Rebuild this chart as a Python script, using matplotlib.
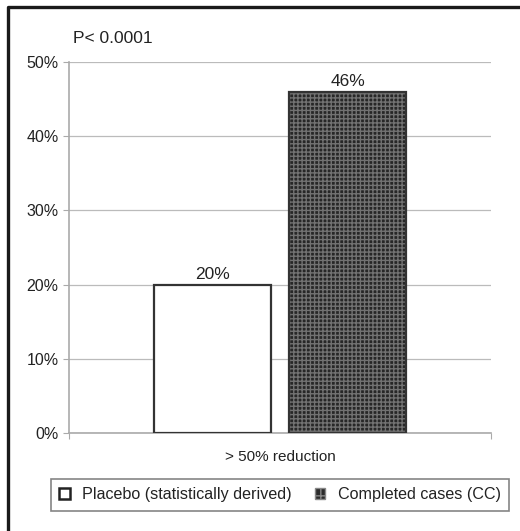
import matplotlib.pyplot as plt
from matplotlib.patches import Rectangle
from matplotlib.lines import Line2D

categories = ['> 50% reduction']
series_names = ['Placebo (statistically derived)', 'Completed cases (CC)']
values = [20, 46]
yticks = [0, 10, 20, 30, 40, 50]

plt.rcParams['font.family'] = 'Liberation Sans'
plt.rcParams['hatch.linewidth'] = 1.0

W, H = 520, 531
fig = plt.figure(figsize=(W / 100, H / 100), dpi=100)
# cropped frame: only left and top edges visible
fig.lines.append(Line2D([8 / W, 8 / W, 1.0], [0.0, 1 - 7 / H, 1 - 7 / H], transform=fig.transFigure,
                        color='#1a1a1a', linewidth=2.4))

ax = fig.add_axes([69 / W, 1 - 433 / H, 422 / W, 371 / H])

width = 0.277
offsets = [-0.16, 0.161]
# placebo: white bar
ax.bar(offsets[0], values[0], width, color='white', edgecolor='#333333', linewidth=1.6, zorder=3)
# completed cases: dense dotted pattern
ax.bar(offsets[1], values[1], width, color='#272727', edgecolor='#727272', hatch='++++',
       linewidth=0, zorder=3)
ax.bar(offsets[1], values[1], width, fill=False, edgecolor='#333333', linewidth=1.6, zorder=4)

for x, v in zip(offsets, values):
    ax.text(x, v + 0.35, f'{v}%', ha='center', va='bottom', fontsize=12.5, color='#222222')

ax.set_xlim(-0.5, 0.5)
ax.set_ylim(0, 50)
ax.set_yticks(yticks)
ax.set_yticklabels([f'{t}%' for t in yticks], fontsize=11.5, color='#222222')
ax.set_xticks([-0.5, 0.5])
ax.set_xticklabels([])
ax.text(0, -2.3, categories[0], ha='center', va='top', fontsize=11, color='#222222')
ax.tick_params(axis='both', color='#aaaaaa', length=4)
ax.yaxis.grid(True, color='#bbbbbb', linewidth=0.9)
ax.set_axisbelow(True)
for s in ['top', 'right']:
    ax.spines[s].set_visible(False)
for s in ['left', 'bottom']:
    ax.spines[s].set_color('#aaaaaa')
    ax.spines[s].set_linewidth(1.2)

fig.text(73 / W, 1 - 43 / H, 'P< 0.0001', fontsize=12.5, color='#222222', va='baseline')

# legend
h1 = Rectangle((0, 0), 1, 1, facecolor='white', edgecolor='#222222', linewidth=1.8)
h2 = Rectangle((0, 0), 1, 1, facecolor='#2b2b2b', edgecolor='#888888', hatch='++', linewidth=1)
leg = fig.legend([h1, h2], series_names, loc='center', bbox_to_anchor=(280 / W, 1 - 495 / H),
                 ncol=2, fontsize=11.6, frameon=True, fancybox=False, edgecolor='#666666',
                 handlelength=0.65, handleheight=0.65, handletextpad=0.8, columnspacing=1.4,
                 borderpad=0.5, labelcolor='#222222')
leg.get_frame().set_linewidth(1.2)

fig.savefig('out.png', dpi=100)
